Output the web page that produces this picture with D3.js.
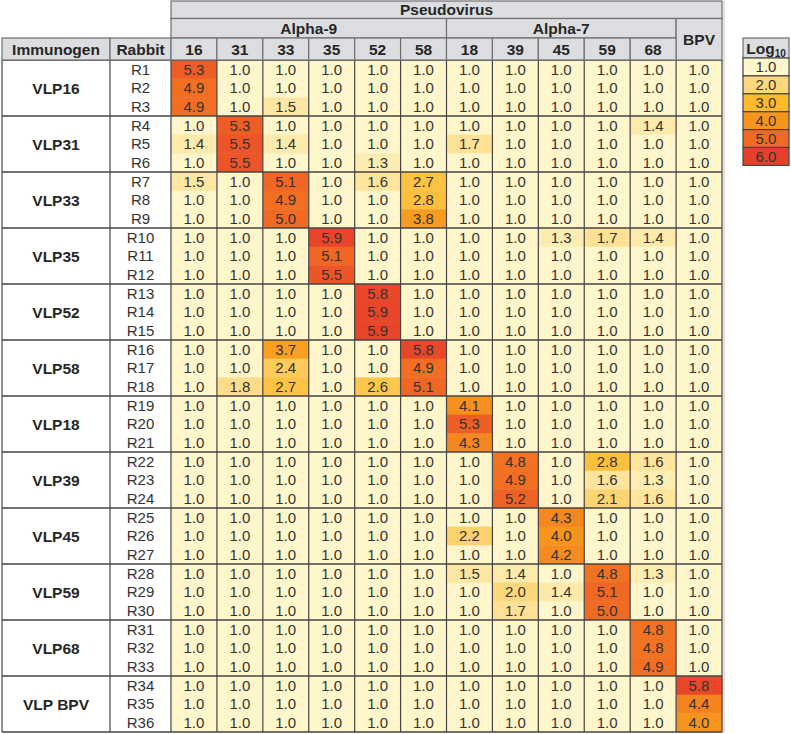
<!DOCTYPE html>
<html>
<head>
<meta charset="utf-8">
<script src="https://cdn.jsdelivr.net/npm/d3@7/dist/d3.min.js"></script>
<style>
  html, body { margin: 0; padding: 0; background: #fff; }
  svg { display: block; font-family: "Liberation Sans", Arial, sans-serif; }
</style>
</head>
<body>
<svg id="chart" width="791" height="734"></svg>
<script>
// ---------- data ----------
const pseudoviruses = ["16", "31", "33", "35", "52", "58", "18", "39", "45", "59", "68", "BPV"];
const alpha9 = ["16", "31", "33", "35", "52", "58"];
const alpha7 = ["18", "39", "45", "59", "68"];
const immunogens = ["VLP16", "VLP31", "VLP33", "VLP35", "VLP52", "VLP58", "VLP18", "VLP39", "VLP45", "VLP59", "VLP68", "VLP BPV"];
const rabbits = d3.range(1, 37).map(i => "R" + i);
// log10 neutralization titers, one row per rabbit, columns in pseudoviruses order
const titers = [
  [5.3, 1.0, 1.0, 1.0, 1.0, 1.0, 1.0, 1.0, 1.0, 1.0, 1.0, 1.0],
  [4.9, 1.0, 1.0, 1.0, 1.0, 1.0, 1.0, 1.0, 1.0, 1.0, 1.0, 1.0],
  [4.9, 1.0, 1.5, 1.0, 1.0, 1.0, 1.0, 1.0, 1.0, 1.0, 1.0, 1.0],
  [1.0, 5.3, 1.0, 1.0, 1.0, 1.0, 1.0, 1.0, 1.0, 1.0, 1.4, 1.0],
  [1.4, 5.5, 1.4, 1.0, 1.0, 1.0, 1.7, 1.0, 1.0, 1.0, 1.0, 1.0],
  [1.0, 5.5, 1.0, 1.0, 1.3, 1.0, 1.0, 1.0, 1.0, 1.0, 1.0, 1.0],
  [1.5, 1.0, 5.1, 1.0, 1.6, 2.7, 1.0, 1.0, 1.0, 1.0, 1.0, 1.0],
  [1.0, 1.0, 4.9, 1.0, 1.0, 2.8, 1.0, 1.0, 1.0, 1.0, 1.0, 1.0],
  [1.0, 1.0, 5.0, 1.0, 1.0, 3.8, 1.0, 1.0, 1.0, 1.0, 1.0, 1.0],
  [1.0, 1.0, 1.0, 5.9, 1.0, 1.0, 1.0, 1.0, 1.3, 1.7, 1.4, 1.0],
  [1.0, 1.0, 1.0, 5.1, 1.0, 1.0, 1.0, 1.0, 1.0, 1.0, 1.0, 1.0],
  [1.0, 1.0, 1.0, 5.5, 1.0, 1.0, 1.0, 1.0, 1.0, 1.0, 1.0, 1.0],
  [1.0, 1.0, 1.0, 1.0, 5.8, 1.0, 1.0, 1.0, 1.0, 1.0, 1.0, 1.0],
  [1.0, 1.0, 1.0, 1.0, 5.9, 1.0, 1.0, 1.0, 1.0, 1.0, 1.0, 1.0],
  [1.0, 1.0, 1.0, 1.0, 5.9, 1.0, 1.0, 1.0, 1.0, 1.0, 1.0, 1.0],
  [1.0, 1.0, 3.7, 1.0, 1.0, 5.8, 1.0, 1.0, 1.0, 1.0, 1.0, 1.0],
  [1.0, 1.0, 2.4, 1.0, 1.0, 4.9, 1.0, 1.0, 1.0, 1.0, 1.0, 1.0],
  [1.0, 1.8, 2.7, 1.0, 2.6, 5.1, 1.0, 1.0, 1.0, 1.0, 1.0, 1.0],
  [1.0, 1.0, 1.0, 1.0, 1.0, 1.0, 4.1, 1.0, 1.0, 1.0, 1.0, 1.0],
  [1.0, 1.0, 1.0, 1.0, 1.0, 1.0, 5.3, 1.0, 1.0, 1.0, 1.0, 1.0],
  [1.0, 1.0, 1.0, 1.0, 1.0, 1.0, 4.3, 1.0, 1.0, 1.0, 1.0, 1.0],
  [1.0, 1.0, 1.0, 1.0, 1.0, 1.0, 1.0, 4.8, 1.0, 2.8, 1.6, 1.0],
  [1.0, 1.0, 1.0, 1.0, 1.0, 1.0, 1.0, 4.9, 1.0, 1.6, 1.3, 1.0],
  [1.0, 1.0, 1.0, 1.0, 1.0, 1.0, 1.0, 5.2, 1.0, 2.1, 1.6, 1.0],
  [1.0, 1.0, 1.0, 1.0, 1.0, 1.0, 1.0, 1.0, 4.3, 1.0, 1.0, 1.0],
  [1.0, 1.0, 1.0, 1.0, 1.0, 1.0, 2.2, 1.0, 4.0, 1.0, 1.0, 1.0],
  [1.0, 1.0, 1.0, 1.0, 1.0, 1.0, 1.0, 1.0, 4.2, 1.0, 1.0, 1.0],
  [1.0, 1.0, 1.0, 1.0, 1.0, 1.0, 1.5, 1.4, 1.0, 4.8, 1.3, 1.0],
  [1.0, 1.0, 1.0, 1.0, 1.0, 1.0, 1.0, 2.0, 1.4, 5.1, 1.0, 1.0],
  [1.0, 1.0, 1.0, 1.0, 1.0, 1.0, 1.0, 1.7, 1.0, 5.0, 1.0, 1.0],
  [1.0, 1.0, 1.0, 1.0, 1.0, 1.0, 1.0, 1.0, 1.0, 1.0, 4.8, 1.0],
  [1.0, 1.0, 1.0, 1.0, 1.0, 1.0, 1.0, 1.0, 1.0, 1.0, 4.8, 1.0],
  [1.0, 1.0, 1.0, 1.0, 1.0, 1.0, 1.0, 1.0, 1.0, 1.0, 4.9, 1.0],
  [1.0, 1.0, 1.0, 1.0, 1.0, 1.0, 1.0, 1.0, 1.0, 1.0, 1.0, 5.8],
  [1.0, 1.0, 1.0, 1.0, 1.0, 1.0, 1.0, 1.0, 1.0, 1.0, 1.0, 4.4],
  [1.0, 1.0, 1.0, 1.0, 1.0, 1.0, 1.0, 1.0, 1.0, 1.0, 1.0, 4.0]
];
const legendValues = [1, 2, 3, 4, 5, 6];
const legendColors = ["#fff7cb", "#fdd77c", "#fdba2c", "#f7941e", "#f06a24", "#e6402a"];

// ---------- layout ----------
const svg = d3.select("#chart");
const headerFill = "#dcdde0";
const headerLine = "#6e6e6e";
const gridLine = "#454545";
const textCol = "#333333";

const x = d3.scaleBand().domain(pseudoviruses).range([171, 722]);
const y = d3.scaleBand().domain(rabbits).range([60, 732]);
const color = d3.scaleLinear().domain(legendValues).range(legendColors).clamp(true);

const leftX = 2, rabbitX = 110;
const hdrY0 = 1, hdrY1 = 18.5, hdrY2 = 38, hdrY3 = 60;

const cells = [];
titers.forEach((row, i) => row.forEach((v, j) => cells.push({ r: rabbits[i], c: pseudoviruses[j], v })));

// light shadow at the right edge of the table
svg.append("line").attr("x1", 724).attr("x2", 724).attr("y1", hdrY0).attr("y2", 733)
  .attr("stroke", "#d8d8d8").attr("stroke-width", 1.5);

// data cells
svg.append("g").selectAll("rect").data(cells).join("rect")
  .attr("x", d => x(d.c)).attr("y", d => y(d.r))
  .attr("width", x.bandwidth() + 0.5).attr("height", y.bandwidth() + 0.5)
  .attr("fill", d => color(d.v));

svg.append("g").selectAll("text").data(cells).join("text")
  .attr("x", d => x(d.c) + x.bandwidth() / 2)
  .attr("y", d => y(d.r) + y.bandwidth() / 2 + 5.4)
  .attr("text-anchor", "middle")
  .attr("font-size", 15)
  .attr("fill", textCol)
  .text(d => d.v.toFixed(1));

// rabbit labels
svg.append("g").selectAll("text").data(rabbits).join("text")
  .attr("x", (rabbitX + 171) / 2)
  .attr("y", d => y(d) + y.bandwidth() / 2 + 5.4)
  .attr("text-anchor", "middle")
  .attr("font-size", 15)
  .attr("fill", textCol)
  .text(d => d);

// immunogen labels
const groupY = g => y(rabbits[g * 3]);
const groupH = y.bandwidth() * 3;
svg.append("g").selectAll("text").data(immunogens).join("text")
  .attr("x", (leftX + rabbitX) / 2)
  .attr("y", (d, i) => groupY(i) + groupH / 2 + 5.5)
  .attr("text-anchor", "middle")
  .attr("font-size", 15.5)
  .attr("font-weight", "bold")
  .attr("fill", "#262626")
  .text(d => d);

// grid: vertical lines in body
const vxs = [leftX, rabbitX, ...pseudoviruses.map(p => x(p)), x.range()[1]];
svg.append("g").selectAll("line").data(vxs).join("line")
  .attr("x1", d => d).attr("x2", d => d)
  .attr("y1", hdrY3).attr("y2", 732)
  .attr("stroke", gridLine).attr("stroke-width", 1.2);

// group horizontal lines
const hys = d3.range(0, 13).map(g => g < 12 ? groupY(g) : y.range()[1]);
svg.append("g").selectAll("line").data(hys).join("line")
  .attr("x1", leftX).attr("x2", 722)
  .attr("y1", d => d).attr("y2", d => d)
  .attr("stroke", gridLine).attr("stroke-width", 1.4);

// ---------- header ----------
const hdr = svg.append("g");
function hcell(x0, y0, x1, y1, label, size) {
  hdr.append("rect").attr("x", x0).attr("y", y0).attr("width", x1 - x0).attr("height", y1 - y0)
    .attr("fill", headerFill).attr("stroke", headerLine).attr("stroke-width", 1.2);
  if (label) hdr.append("text").attr("x", (x0 + x1) / 2).attr("y", (y0 + y1) / 2 + 5.6)
    .attr("text-anchor", "middle").attr("font-size", size || 15.5).attr("font-weight", "bold")
    .attr("fill", "#262626").text(label);
}
const xEnd = x.range()[1];
hcell(x(pseudoviruses[0]), hdrY0, xEnd, hdrY1, "Pseudovirus");
hcell(x(alpha9[0]), hdrY1, x(alpha9[alpha9.length - 1]) + x.bandwidth(), hdrY2, "Alpha-9");
hcell(x(alpha7[0]), hdrY1, x(alpha7[alpha7.length - 1]) + x.bandwidth(), hdrY2, "Alpha-7");
hcell(x("BPV"), hdrY1, xEnd, hdrY3, "BPV");
hcell(leftX, hdrY2, rabbitX, hdrY3, "Immunogen");
hcell(rabbitX, hdrY2, 171, hdrY3, "Rabbit");
pseudoviruses.filter(p => p !== "BPV").forEach(p => hcell(x(p), hdrY2, x(p) + x.bandwidth(), hdrY3, p));

// ---------- legend ----------
const lx0 = 743, lx1 = 789, ly0 = 38, lyH = 20;
const ly = d3.scaleBand().domain(legendValues).range([ly0 + lyH, ly0 + lyH + 6 * 17.9]);
const leg = svg.append("g");
leg.append("rect").attr("x", lx0).attr("y", ly0).attr("width", lx1 - lx0).attr("height", lyH)
  .attr("fill", headerFill).attr("stroke", headerLine).attr("stroke-width", 1.2);
const lt = leg.append("text").attr("x", (lx0 + lx1) / 2).attr("y", ly0 + lyH / 2 + 5.5)
  .attr("text-anchor", "middle").attr("font-size", 15.5).attr("font-weight", "bold").attr("fill", "#262626");
lt.append("tspan").text("Log");
lt.append("tspan").attr("font-size", 10).attr("dy", 3).text("10");
leg.selectAll("rect.lc").data(legendValues).join("rect").attr("class", "lc")
  .attr("x", lx0).attr("y", d => ly(d)).attr("width", lx1 - lx0).attr("height", ly.bandwidth())
  .attr("fill", d => color(d)).attr("stroke", gridLine).attr("stroke-width", 1.2);
leg.selectAll("text.lv").data(legendValues).join("text").attr("class", "lv")
  .attr("x", (lx0 + lx1) / 2).attr("y", d => ly(d) + ly.bandwidth() / 2 + 5.4)
  .attr("text-anchor", "middle").attr("font-size", 15).attr("fill", textCol)
  .text(d => d.toFixed(1));
</script>
</body>
</html>
